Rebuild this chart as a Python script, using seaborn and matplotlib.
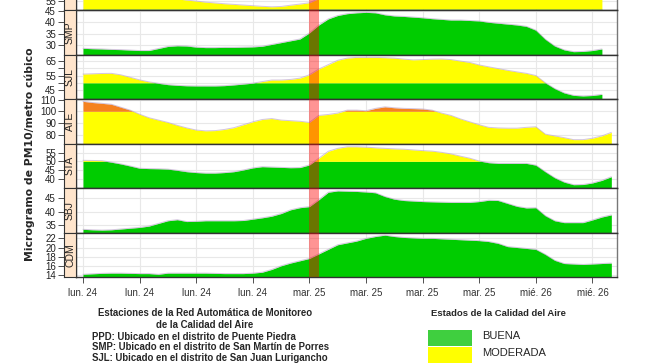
import numpy as np
import matplotlib
matplotlib.use('Agg')
import matplotlib.pyplot as plt
from matplotlib.patches import Rectangle
import seaborn as sns

# Hourly PM10 (ug/m3), hour 0 = lun. 24 00:00
stations = ['PPD', 'SMP', 'SJL', 'ATE', 'STA', 'SBJ', 'CDM']

ppd = [64.0, 63.5, 63.0, 62.5, 61.5, 60.5, 59.5, 58.5, 57.8, 57.0,
       56.3, 55.6, 55.0, 54.3, 53.8, 53.3, 52.9, 52.5, 52.1, 51.7,
       51.4, 51.6, 52.4, 53.1, 53.9, 56.5, 61.0, 65.0, 68.0, 70.5,
       72.5, 73.5, 74.5, 75.4, 74.5, 73.5, 72.5, 71.5, 71.0, 70.5,
       70.0, 69.5, 69.0, 68.5, 68.0, 67.0, 66.0, 65.0, 64.0, 62.5,
       61.0, 60.0, 59.0, 58.5, 58.5, 59.0]
smp = [28.5, 28.3, 28.2, 28.0, 27.9, 27.7, 27.5, 27.5, 28.4, 29.3,
       29.6, 29.5, 29.0, 28.8, 28.8, 28.9, 28.9, 29.0, 29.1, 29.4,
       30.2, 31.0, 31.8, 32.6, 35.3, 38.8, 41.5, 43.0, 43.8, 44.2,
       44.4, 44.2, 43.3, 42.8, 42.6, 42.3, 42.0, 41.6, 41.3, 41.0,
       41.0, 40.8, 40.6, 40.0, 39.6, 39.2, 38.8, 38.2, 36.5, 32.5,
       29.5, 27.8, 27.0, 27.1, 27.5, 28.2]
sjl = [56.0, 56.2, 56.4, 56.5, 55.5, 53.8, 52.0, 50.6, 49.6, 48.7,
       48.2, 47.9, 47.8, 47.8, 47.8, 48.0, 48.5, 49.1, 49.7, 50.8,
       51.9, 51.9, 52.3, 53.2, 55.5, 59.5, 62.5, 65.5, 67.0, 67.5,
       67.5, 67.5, 67.3, 67.0, 66.3, 65.8, 66.0, 66.3, 66.4, 66.0,
       65.0, 64.0, 62.3, 61.0, 59.8, 58.6, 57.5, 56.5, 55.0, 50.0,
       46.0, 43.0, 41.3, 40.9, 41.2, 42.0]
ate = [108.5, 107.5, 106.8, 106.0, 103.5, 101.0, 97.5, 94.5, 92.5, 90.5,
       88.0, 85.8, 84.0, 83.3, 83.5, 84.5, 86.0, 88.5, 91.0, 93.0,
       93.8, 92.5, 92.0, 91.5, 90.5, 96.5, 97.3, 98.5, 101.0, 101.0,
       100.5, 102.5, 103.8, 103.0, 102.5, 102.3, 102.0, 101.0, 98.5, 96.5,
       93.5, 91.0, 88.5, 86.3, 85.8, 85.6, 85.6, 86.3, 86.8, 80.5,
       79.0, 77.5, 75.8, 75.8, 77.0, 79.0, 82.0]
sta = [50.6, 50.5, 50.4, 49.5, 48.5, 47.3, 46.0, 45.8, 45.7, 45.5,
       44.8, 44.0, 43.5, 43.2, 43.2, 43.5, 44.0, 45.0, 46.2, 46.9,
       46.7, 46.5, 46.3, 46.4, 47.9, 51.8, 55.8, 57.5, 58.4, 58.4,
       58.2, 57.8, 57.5, 57.2, 57.0, 56.6, 56.2, 55.9, 55.2, 54.3,
       53.0, 51.8, 50.2, 49.2, 48.8, 48.8, 48.8, 48.8, 47.8, 44.0,
       40.5, 38.0, 36.5, 36.6, 37.5, 39.0, 41.1]
sbj = [33.4, 33.2, 33.1, 33.2, 33.5, 33.8, 34.1, 34.6, 35.6, 36.6,
       37.0, 36.3, 36.4, 36.6, 36.6, 36.6, 36.6, 36.7, 37.2, 37.7,
       38.3, 39.3, 40.7, 41.5, 41.9, 44.5, 47.3, 47.8, 47.7, 47.6,
       47.4, 47.1, 45.7, 44.7, 44.2, 44.0, 43.8, 43.7, 43.6, 43.5,
       43.5, 43.5, 43.8, 44.3, 44.2, 43.1, 42.0, 41.4, 41.5, 38.5,
       36.6, 35.9, 35.9, 35.9, 36.9, 38.0, 38.8]
cdm = [14.15, 14.25, 14.35, 14.4, 14.4, 14.35, 14.3, 14.3, 14.15, 14.4,
       14.4, 14.4, 14.4, 14.4, 14.35, 14.3, 14.3, 14.3, 14.4, 14.6,
       15.2, 16.0, 16.6, 17.1, 17.6, 18.6, 19.6, 20.6, 21.0, 21.4,
       22.0, 22.4, 22.7, 22.4, 22.2, 22.1, 22.0, 22.0, 21.9, 21.8,
       21.7, 21.6, 21.5, 21.3, 20.9, 20.2, 20.0, 19.8, 19.6, 18.5,
       17.2, 16.5, 16.4, 16.3, 16.4, 16.5, 16.6]

series = [ppd, smp, sjl, ate, sta, sbj, cdm]

# PPD sits mostly above the top of the image; only its lowest tick shows
ytick_vals = {'PPD': [55], 'SMP': [30, 35, 40, 45],
              'SJL': [45, 50, 55, 60, 65], 'ATE': [80, 90, 100, 110],
              'STA': [40, 45, 50, 55], 'SBJ': [35, 40, 45],
              'CDM': [14, 16, 18, 20, 22]}
ytick_text = {'SJL': ['45', '', '55', '', '65']}

xtick_hours = [0, 6, 12, 18, 24, 30, 36, 42, 48, 54]
xtick_labels = ['lun. 24', 'lun. 24', 'lun. 24', 'lun. 24', 'mar. 25',
                'mar. 25', 'mar. 25', 'mar. 25', 'mié. 26', 'mié. 26']

buena_max = 50
moderada_max = 100
marked_hour = 24

station_notes = ['PPD: Ubicado en el distrito de Puente Piedra',
                 'SMP: Ubicado en el distrito de San Martín de Porres',
                 'SJL: Ubicado en el distrito de San Juan Lurigancho']
state_names = ['BUENA', 'MODERADA']

# layout (pixels in a 645x363 canvas) and y ranges per panel
W, H = 645, 363
ylims = {'PPD': (49.4, 77.2), 'SMP': (25.75, 45.45), 'SJL': (38.8, 69.5),
         'ATE': (72.5, 110.5), 'STA': (34.6, 60.3), 'SBJ': (32.2, 48.9),
         'CDM': (13.56, 23.28)}
GREEN = '#00CC00'
YELLOW = '#FFFF00'
ORANGE = '#F5821F'
STRIP = '#FFE5CC'
TICK_FONT = 'Liberation Sans'

sns.set_style('white')
plt.rcParams['font.family'] = ['Liberation Sans', 'DejaVu Sans']


def px_rect(left, top, right, bottom):
    return [left / W, 1 - bottom / H, (right - left) / W, (bottom - top) / H]


fig = plt.figure(figsize=(W / 100, H / 100), dpi=100)

panel_h = 44.5
last_bottom = 277
for i, (name, vals) in enumerate(zip(stations, series)):
    bottom = last_bottom - (len(stations) - 1 - i) * panel_h
    top = bottom - panel_h
    ax = fig.add_axes(px_rect(76, top, 617, bottom))
    hours = np.arange(len(vals))
    v = np.array(vals)

    # fine grid so the colour bands split exactly on the thresholds
    xf = np.linspace(0, len(vals) - 1, (len(vals) - 1) * 20 + 1)
    vf = np.interp(xf, hours, v)
    lo = ylims[name][0]
    ax.fill_between(xf, lo, np.minimum(vf, buena_max), color=GREEN, lw=0, zorder=2)
    ax.fill_between(xf, buena_max, np.clip(vf, buena_max, moderada_max),
                    color=YELLOW, lw=0, zorder=2)
    ax.fill_between(xf, moderada_max, np.maximum(vf, moderada_max),
                    color=ORANGE, lw=0, zorder=2)
    sns.lineplot(x=hours, y=v, ax=ax, color='#b8a0c8', lw=0.7, alpha=0.6, zorder=3)

    ax.axvspan(marked_hour, marked_hour + 1, color='#FF0000', alpha=0.42, lw=0, zorder=5)

    ax.set_xlim(-0.74, 56.6)
    ax.set_ylim(*ylims[name])
    ax.set_yticks(ytick_vals[name])
    ax.set_xticks(xtick_hours)
    ax.set_axisbelow(True)
    ax.grid(True, color='#e8e8e8', lw=0.8)
    ax.tick_params(left=False, labelleft=False, bottom=False, labelbottom=False)
    ax.set_xlabel('')
    ax.set_ylabel('')
    for s in ['top', 'bottom', 'left']:
        ax.spines[s].set_color('#333333')
        ax.spines[s].set_linewidth(1.0)
    ax.spines['right'].set_color('#777777')
    ax.spines['right'].set_linewidth(1.0)

    if name == stations[-1]:
        ax.tick_params(bottom=True, labelbottom=True, length=4.3, width=0.6,
                       color='#333333', pad=3.5)
        ax.set_xticklabels(xtick_labels, fontsize=7, color='#333333',
                           family=TICK_FONT)

    # strip on the left with the station name, y ticks on its outer side
    sax = fig.add_axes(px_rect(64, top, 76, bottom))
    sax.set_facecolor(STRIP)
    sax.set_xlim(0, 1)
    sax.set_ylim(*ylims[name])
    sax.set_xticks([])
    sax.set_yticks(ytick_vals[name])
    sax.set_yticklabels(ytick_text.get(name, [str(t) for t in ytick_vals[name]]),
                        fontsize=7, color='#222222', family=TICK_FONT)
    sax.tick_params(axis='y', left=True, length=4.3, width=0.6, color='#333333', pad=1.5)
    for s in sax.spines.values():
        s.set_color('#333333')
        s.set_linewidth(0.8)
    if top >= 0:
        sax.text(0.5, 0.5, name, transform=sax.transAxes, rotation=90,
                 ha='center', va='center', fontsize=7.5, color='#222222',
                 family=TICK_FONT)

fig.text(30 / W, 1 - 154 / H, 'Microgramo de PM10/metro cúbico', rotation=90,
         ha='center', va='center', fontsize=7.8, fontweight='bold', family='DejaVu Sans')

# station notes
fig.text(205 / W, 1 - 313 / H, 'Estaciones de la Red Automática de Monitoreo',
         ha='center', va='center', fontsize=6.9, fontweight='bold')
fig.text(205 / W, 1 - 325 / H, 'de la Calidad del Aire',
         ha='center', va='center', fontsize=6.9, fontweight='bold')
for k, note in enumerate(station_notes):
    fig.text(92 / W, 1 - (337 + 10.5 * k) / H, note,
             ha='left', va='center', fontsize=6.9, fontweight='bold')

# air quality states legend
fig.text(498 / W, 1 - 313 / H, 'Estados de la Calidad del Aire',
         ha='center', va='center', fontsize=6.8, fontweight='bold')
for k, (nm, col) in enumerate(zip(state_names, ['#3FCF3F', YELLOW])):
    y_top = 330 + 17 * k
    fig.patches.append(Rectangle((428 / W, 1 - (y_top + 16) / H), 44 / W, 16 / H,
                                 transform=fig.transFigure, color=col, lw=0))
    fig.text(482 / W, 1 - (y_top + 6) / H, nm, ha='left', va='center', fontsize=8)

fig.savefig('out.png', dpi=100)
